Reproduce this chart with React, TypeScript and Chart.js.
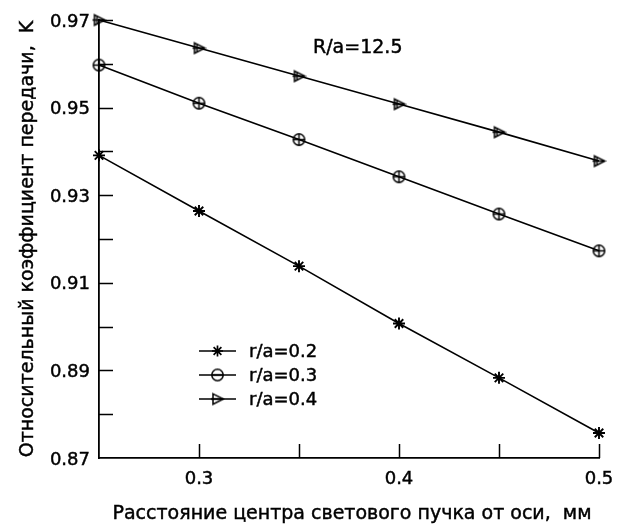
import React, { useEffect, useRef } from "react";
import { Chart, registerables } from "chart.js";

Chart.register(...registerables);

const distances = [0.25, 0.3, 0.35, 0.4, 0.45, 0.5];
const k02 = [0.9391, 0.9264, 0.9138, 0.9007, 0.8883, 0.8757];
const k03 = [0.9597, 0.951, 0.9427, 0.9342, 0.9257, 0.9173];
const k04 = [0.970, 0.9636, 0.9572, 0.9508, 0.9444, 0.9378];
const seriesLabels = ["r/a=0.2", "r/a=0.3", "r/a=0.4"];
const xTickLabels = ["0.3", "0.4", "0.5"];
const yTickLabels = ["0.87", "0.89", "0.91", "0.93", "0.95", "0.97"];
const annotationText = "R/a=12.5";
const annotationPos = { x: 0.357, y: 0.9635 };
const xTitle = "Расстояние центра светового пучка от оси,  мм";
const yTitle = "Относительный коэффициент передачи,  K";

const FONT = "'DejaVu Sans', 'Liberation Sans', Arial, sans-serif";

function makeCircleMarker(withVertical: boolean) {
  const c = document.createElement("canvas");
  c.width = 15;
  c.height = 15;
  const ctx = c.getContext("2d")!;
  ctx.strokeStyle = "#000";
  ctx.lineWidth = 1.5;
  ctx.beginPath();
  ctx.arc(7.5, 7.5, 5.7, 0, Math.PI * 2);
  ctx.stroke();
  ctx.beginPath();
  if (withVertical) {
    ctx.moveTo(7.5, 1.8);
    ctx.lineTo(7.5, 13.2);
  }
  ctx.moveTo(1.8, 7.5);
  ctx.lineTo(13.2, 7.5);
  ctx.stroke();
  return c;
}

function makeTriangleMarker(withVertical: boolean) {
  const c = document.createElement("canvas");
  c.width = 15;
  c.height = 15;
  const ctx = c.getContext("2d")!;
  ctx.strokeStyle = "#000";
  ctx.lineWidth = 1.5;
  ctx.beginPath();
  ctx.moveTo(3, 2.3);
  ctx.lineTo(13.5, 7.5);
  ctx.lineTo(3, 12.7);
  ctx.closePath();
  ctx.stroke();
  ctx.beginPath();
  if (withVertical) {
    ctx.moveTo(5.5, 3.5);
    ctx.lineTo(5.5, 11.5);
  }
  ctx.moveTo(1, 7.5);
  ctx.lineTo(13, 7.5);
  ctx.stroke();
  return c;
}

function boldText(ctx: CanvasRenderingContext2D, text: string, x: number, y: number) {
  ctx.fillText(text, x, y);
  ctx.save();
  ctx.lineWidth = 0.45;
  ctx.strokeStyle = "#000";
  ctx.strokeText(text, x, y);
  ctx.restore();
}

export default function App() {
  const ref = useRef<HTMLCanvasElement | null>(null);

  useEffect(() => {
    if (!ref.current) return;
    const circ = makeCircleMarker(true);
    const tri = makeTriangleMarker(true);
    const circLegend = makeCircleMarker(false);
    const triLegend = makeTriangleMarker(false);
    const legendStyles: any[] = ["star", circLegend, triLegend];

    const toPts = (arr: number[]) => arr.map((v, i) => ({ x: distances[i], y: v }));

    const decor = {
      id: "decor",
      afterDraw(chart: any) {
        const ctx = chart.ctx;
        const xs = chart.scales.x;
        const ys = chart.scales.y;
        const ca = chart.chartArea;
        ctx.save();
        ctx.strokeStyle = "#000";
        ctx.fillStyle = "#000";
        ctx.lineWidth = 1.5;
        const tl = 14;
        ctx.beginPath();
        xs.ticks.forEach((t: any) => {
          const px = Math.round(xs.getPixelForValue(t.value)) + 0.5;
          if (Math.abs(px - ca.left) < 2) return;
          ctx.moveTo(px, ca.bottom);
          ctx.lineTo(px, ca.bottom - tl);
        });
        ys.ticks.forEach((t: any) => {
          const py = Math.round(ys.getPixelForValue(t.value)) + 0.5;
          if (Math.abs(py - ca.bottom) < 2) return;
          ctx.moveTo(ca.left, py);
          ctx.lineTo(ca.left + tl, py);
        });
        ctx.stroke();

        // tick labels
        ctx.font = `18px ${FONT}`;
        ctx.textBaseline = "alphabetic";
        ctx.textAlign = "center";
        xTickLabels.forEach((l) => {
          boldText(ctx, l, xs.getPixelForValue(Number(l)), ca.bottom + 26);
        });
        ctx.textAlign = "right";
        yTickLabels.forEach((l) => {
          boldText(ctx, l, ca.left - 9, ys.getPixelForValue(Number(l)) + 6.5);
        });

        // axis titles
        ctx.font = `19px ${FONT}`;
        ctx.textAlign = "center";
        boldText(ctx, xTitle, (ca.left + ca.right) / 2 + 3, ca.bottom + 61);
        ctx.save();
        ctx.translate(33, (ca.top + ca.bottom) / 2);
        ctx.rotate(-Math.PI / 2);
        boldText(ctx, yTitle, 0, 0);
        ctx.restore();

        // annotation
        ctx.font = `19px ${FONT}`;
        ctx.textAlign = "left";
        ctx.textBaseline = "middle";
        boldText(
          ctx,
          annotationText,
          xs.getPixelForValue(annotationPos.x),
          ys.getPixelForValue(annotationPos.y)
        );

        // legend
        const lx0 = ca.left + 100;
        const lx1 = ca.left + 137;
        const ly0 = ca.top + 331;
        const dy = 24;
        chart.data.datasets.forEach((ds: any, i: number) => {
          const y = ly0 + i * dy;
          ctx.beginPath();
          ctx.lineWidth = 1.5;
          ctx.moveTo(lx0, y);
          ctx.lineTo(lx1, y);
          ctx.stroke();
          const st = legendStyles[i];
          const mx = (lx0 + lx1) / 2;
          if (st === "star") {
            const r = 5.5;
            ctx.beginPath();
            ctx.lineWidth = 1.7;
            for (let k = 0; k < 4; k++) {
              const a = (k * Math.PI) / 4;
              ctx.moveTo(mx - r * Math.cos(a), y - r * Math.sin(a));
              ctx.lineTo(mx + r * Math.cos(a), y + r * Math.sin(a));
            }
            ctx.stroke();
          } else {
            ctx.drawImage(st, mx - st.width / 2, y - st.height / 2);
          }
          ctx.font = `18px ${FONT}`;
          ctx.textAlign = "left";
          ctx.textBaseline = "middle";
          boldText(ctx, ds.label, lx1 + 13, y + 1);
        });
        ctx.restore();
      },
    };

    const chart = new Chart(ref.current, {
      type: "line",
      data: {
        datasets: [
          {
            label: seriesLabels[0],
            data: toPts(k02),
            borderColor: "#000",
            borderWidth: 1.6,
            pointStyle: "star",
            pointRadius: 6,
            pointBorderWidth: 1.9,
            pointBorderColor: "#000",
            pointBackgroundColor: "#000",
            tension: 0,
            clip: false as any,
          },
          {
            label: seriesLabels[1],
            data: toPts(k03),
            borderColor: "#000",
            borderWidth: 1.6,
            pointStyle: circ as any,
            pointRadius: 6,
            tension: 0,
            clip: false as any,
          },
          {
            label: seriesLabels[2],
            data: toPts(k04),
            borderColor: "#000",
            borderWidth: 1.6,
            pointStyle: tri as any,
            pointRadius: 6,
            tension: 0,
            clip: false as any,
          },
        ],
      },
      options: {
        animation: false,
        responsive: false,
        maintainAspectRatio: false,
        layout: { padding: { left: 0, right: 20, top: 20, bottom: 0 } },
        plugins: {
          legend: { display: false },
          tooltip: { enabled: false },
        },
        scales: {
          x: {
            type: "linear",
            min: 0.25,
            max: 0.5,
            grid: { display: false },
            border: { display: true, color: "#000", width: 1.8 },
            afterFit: (s: any) => {
              s.height = 67;
            },
            ticks: { stepSize: 0.05, display: false },
            title: { display: false },
          },
          y: {
            type: "linear",
            min: 0.87,
            max: 0.97,
            grid: { display: false },
            border: { display: true, color: "#000", width: 1.8 },
            afterFit: (s: any) => {
              s.width = 99;
            },
            ticks: { stepSize: 0.01, display: false },
            title: { display: false },
          },
        },
      },
      plugins: [decor],
    });
    return () => chart.destroy();
  }, []);

  return (
    <div style={{ position: "absolute", left: 0, top: 0, width: 619, height: 525, background: "#fff" }}>
      <canvas ref={ref} width={619} height={525} />
    </div>
  );
}
